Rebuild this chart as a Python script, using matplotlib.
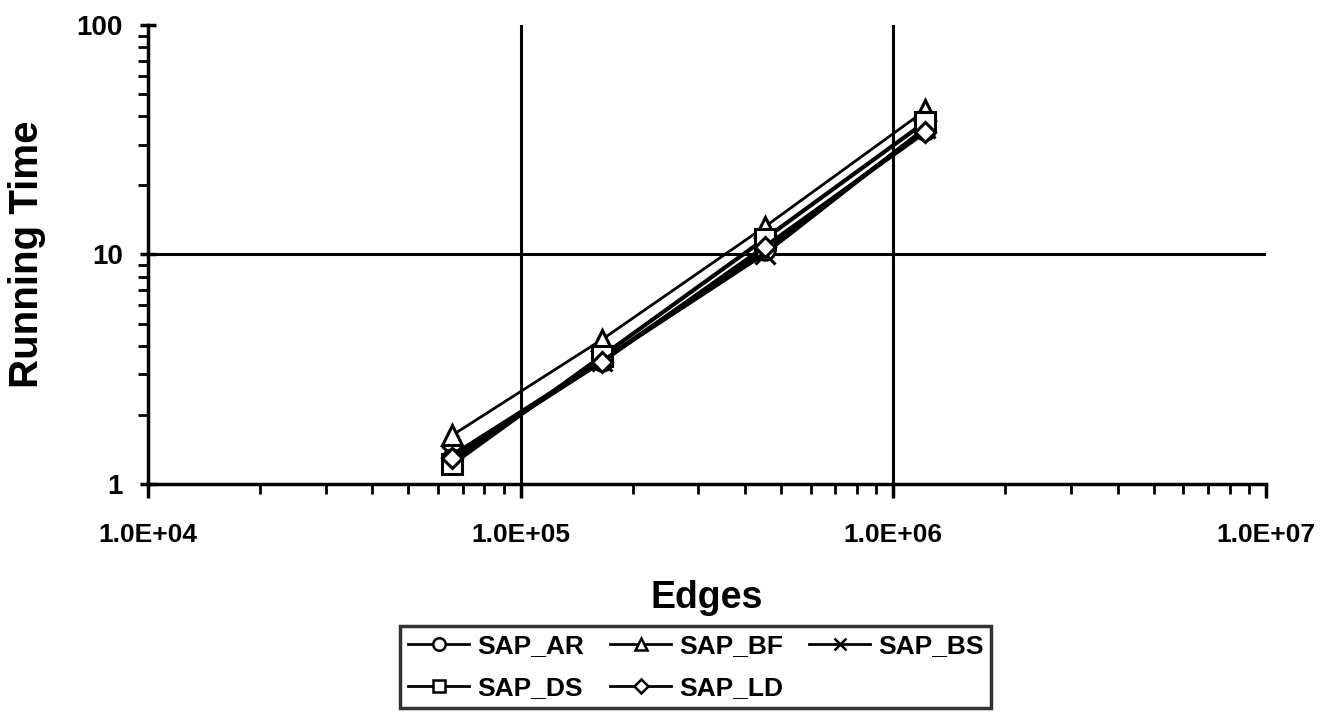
import numpy as np
import matplotlib
matplotlib.use('Agg')
import matplotlib.pyplot as plt
from matplotlib.ticker import LogLocator, NullFormatter, FixedLocator

plt.rcParams['font.family'] = ['Liberation Sans', 'DejaVu Sans']
plt.rcParams['font.weight'] = 'bold'

# data
edges = [65536, 165000, 452000, 1220000]
sap_ar = [1.28, 3.45, 10.5, 35.0]
sap_bf = [1.63, 4.25, 13.2, 42.5]
sap_bs = [1.33, 3.45, 10.1, 35.5]
sap_ds = [1.22, 3.6, 11.7, 37.8]
sap_ld = [1.30, 3.4, 10.8, 34.2]

x_ticks = [1e4, 1e5, 1e6, 1e7]
x_labels = ['1.0E+04', '1.0E+05', '1.0E+06', '1.0E+07']
y_ticks = [1, 10, 100]
y_labels = ['1', '10', '100']

fig = plt.figure(figsize=(13.28, 7.23), dpi=100)
ax = fig.add_axes([0.1114, 0.3306, 0.8418, 0.6348])

ax.set_xscale('log')
ax.set_yscale('log')
ax.set_xlim(1e4, 1e7)
ax.set_ylim(1, 100)

# grid lines (only at inner majors)
for gx in [1e5, 1e6]:
    ax.axvline(gx, color='black', lw=2.2, zorder=1)
ax.axhline(10, color='black', lw=2.2, zorder=1)

mk = dict(color='black', markerfacecolor='white', markeredgecolor='black',
          markersize=14, markeredgewidth=2.2, zorder=3)
l_ar, = ax.plot(edges, sap_ar, marker='o', label='SAP_AR', lw=3, **mk)
l_bf, = ax.plot(edges, sap_bf, marker='^', label='SAP_BF', lw=2, **mk)
l_bs, = ax.plot(edges, sap_bs, marker='x', label='SAP_BS', lw=3, **mk)
l_ds, = ax.plot(edges, sap_ds, marker='s', label='SAP_DS', lw=3, **mk)
l_ld, = ax.plot(edges, sap_ld, marker='D', label='SAP_LD', lw=3, **{**mk, 'markersize': 10})

for s in ['top', 'right']:
    ax.spines[s].set_visible(False)
for s in ['left', 'bottom']:
    ax.spines[s].set_linewidth(2.5)

ax.xaxis.set_major_locator(FixedLocator(x_ticks))
ax.yaxis.set_major_locator(FixedLocator(y_ticks))
ax.xaxis.set_minor_locator(LogLocator(base=10, subs=np.arange(2, 10)))
ax.yaxis.set_minor_locator(LogLocator(base=10, subs=np.arange(2, 10)))
ax.xaxis.set_minor_formatter(NullFormatter())
ax.yaxis.set_minor_formatter(NullFormatter())
ax.set_xticklabels(x_labels, fontsize=19, fontweight='bold')
ax.set_yticklabels(y_labels, fontsize=20, fontweight='bold')

ax.tick_params(axis='x', which='major', direction='out', length=10, width=2.5, pad=18)
ax.tick_params(axis='x', which='minor', direction='out', length=7, width=2)
ax.tick_params(axis='y', which='major', direction='inout', length=12, width=2.5, pad=12)
ax.tick_params(axis='y', which='minor', direction='out', length=7, width=2)

ax.set_xlabel('Edges', fontsize=27, fontweight='bold', labelpad=24)
ax.set_ylabel('Running Time', fontsize=29, fontweight='bold', labelpad=22)

# legend filled row by row like the original
handles = [l_ar, l_ds, l_bf, l_ld, l_bs]
leg = fig.legend(handles, [h.get_label() for h in handles],
                 loc='upper center', bbox_to_anchor=(0.524, 0.134), ncol=3,
                 fontsize=19, frameon=True, fancybox=False, edgecolor='black',
                 handlelength=2.3, handletextpad=0.3, columnspacing=1.0,
                 borderpad=0.3, labelspacing=0.7, borderaxespad=0)
leg.get_frame().set_linewidth(2.5)
for t in leg.get_texts():
    t.set_fontweight('bold')
for h in leg.legend_handles:
    h.set_markersize(9)
    h.set_markeredgewidth(1.8)
    h.set_linewidth(2)
leg.legend_handles[3].set_markersize(7)

fig.savefig('out.png', dpi=100)
